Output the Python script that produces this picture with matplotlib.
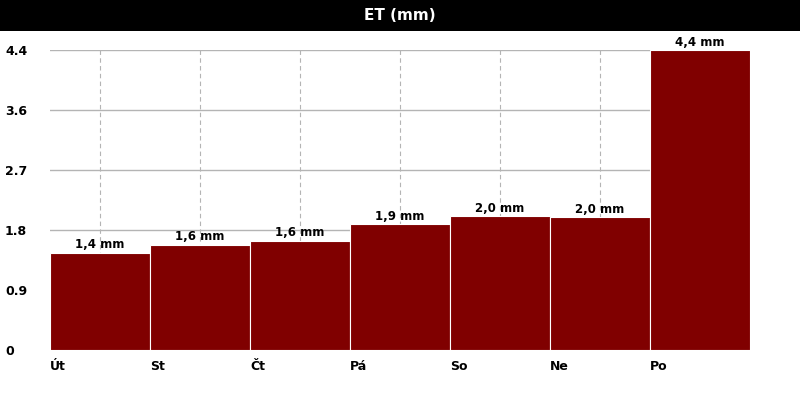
import numpy as np
import matplotlib.pyplot as plt
from matplotlib.patches import Rectangle

# data
days = ['Út', 'St', 'Čt', 'Pá', 'So', 'Ne', 'Po']
et_mm = [1.44, 1.56, 1.62, 1.86, 1.98, 1.97, 4.44]
labels = ['1,4 mm', '1,6 mm', '1,6 mm', '1,9 mm', '2,0 mm', '2,0 mm', '4,4 mm']
ytick_labels = ['0', '0.9', '1.8', '2.7', '3.6', '4.4']

fig = plt.figure(figsize=(8, 4), dpi=100)
ax = fig.add_axes([50 / 800, 50 / 400, 700 / 800, 300 / 400])

# title bar
fig.patches.append(Rectangle((0, 1 - 31 / 400), 1, 31 / 400, transform=fig.transFigure,
                             facecolor='black', edgecolor='none', zorder=0))
fig.text(0.5, 1 - 16 / 400, 'ET (mm)', color='white', fontsize=11, fontweight='bold',
         ha='center', va='center')

x = np.arange(len(days))
ymax = max(et_mm)

ax.bar(x, et_mm, width=1.0, color='#800000', edgecolor='white', linewidth=0.8, zorder=3)

for xi, v, lab in zip(x, et_mm, labels):
    ax.annotate(lab, (xi, v), xytext=(0, 1), textcoords='offset points',
                ha='center', va='bottom', fontsize=8.5, fontweight='bold',
                color='black', zorder=4, annotation_clip=False)

ax.set_xlim(-0.5, len(days) - 0.5)
ax.set_ylim(0, ymax)

# grid
yt = np.linspace(0, ymax, 6)
ax.set_yticks(yt)
ax.set_yticklabels(ytick_labels, ha='left', fontsize=9, fontweight='bold')
ax.tick_params(axis='y', length=0, pad=32.4)
for y in yt[1:]:
    ax.axhline(y, color='#b4b4b4', linewidth=1, zorder=1)
for xi in x:
    ax.axvline(xi, color='#b4b4b4', linewidth=0.8, linestyle=(0, (4, 3)), zorder=1)

ax.set_xticks(x - 0.5)
ax.set_xticklabels(days, ha='left', fontsize=9, fontweight='bold')
ax.tick_params(axis='x', length=0, pad=7)

for s in ax.spines.values():
    s.set_visible(False)

fig.savefig('out.png', dpi=100)
